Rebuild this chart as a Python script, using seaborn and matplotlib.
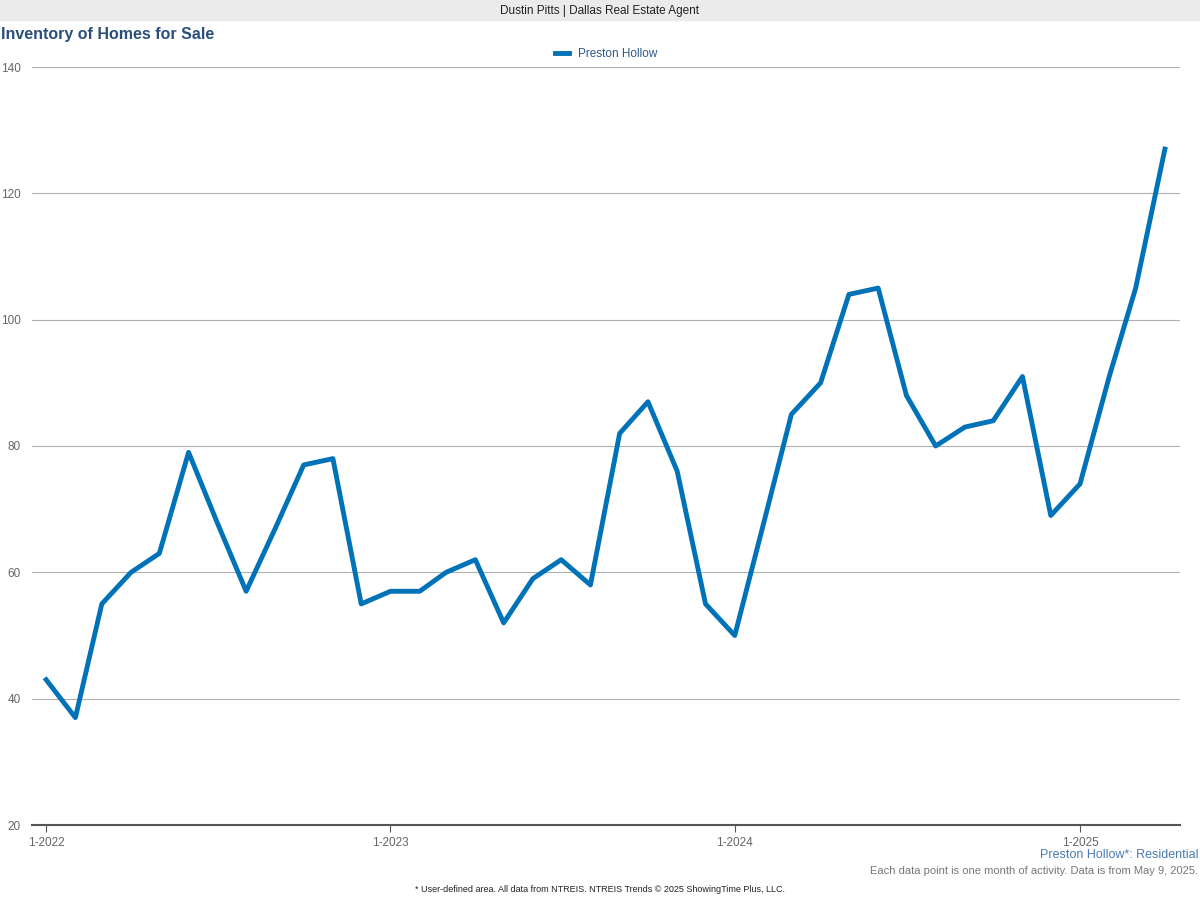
import pandas as pd
import matplotlib.pyplot as plt
import seaborn as sns

# monthly inventory, Jan 2022 .. Apr 2025
months = pd.date_range("2022-01-01", "2025-04-01", freq="MS")
inventory = [43, 37, 55, 60, 63, 79, 68, 57, 67, 77, 78, 55,
             57, 57, 60, 62, 52, 59, 62, 58, 82, 87, 76, 55,
             50, 68, 85, 90, 104, 105, 88, 80, 83, 84, 91, 69,
             74, 91, 105, 127]
tick_dates = pd.to_datetime(["2022-01-01", "2023-01-01", "2024-01-01", "2025-01-01"])
tick_labels = ["1-2022", "1-2023", "1-2024", "1-2025"]

df = pd.DataFrame({"month": months, "inventory": inventory})

plt.rcParams["font.family"] = "Liberation Sans"
fig = plt.figure(figsize=(12, 9), dpi=100)
ax = fig.add_axes([32 / 1200, 1 - 825 / 900, 1148 / 1200, 758 / 900])

sns.lineplot(data=df, x="month", y="inventory", ax=ax, color="#0072b8",
             linewidth=3.5, label="Preston Hollow")

ax.set_ylim(20, 140)
ax.set_yticks(range(20, 141, 20))
ax.set_xlim(pd.Timestamp("2021-12-17"), pd.Timestamp("2025-04-17"))
ax.set_xticks(tick_dates)
ax.set_xticklabels(tick_labels)
ax.set_xlabel("")
ax.set_ylabel("")
ax.grid(axis="y", color="#b0b0b0", linewidth=0.8)
ax.set_axisbelow(True)
for s in ["top", "right", "left"]:
    ax.spines[s].set_visible(False)
ax.spines["bottom"].set_color("#555555")
ax.spines["bottom"].set_linewidth(1.5)
ax.tick_params(axis="y", length=0, labelsize=8.5, colors="#666666", pad=8)
ax.tick_params(axis="x", length=5, labelsize=8.5, colors="#666666", color="#555555")

leg = ax.legend(loc="lower center", bbox_to_anchor=(0.5, 0.995), frameon=False,
                fontsize=8.5, handlelength=1.2)
for t in leg.get_texts():
    t.set_color("#2a5a8a")

# header bar
fig.patches.append(plt.Rectangle((0, 1 - 20 / 900), 1, 20 / 900, transform=fig.transFigure,
                                 color="#ebebeb", zorder=0))
fig.text(0.5, 1 - 11 / 900, "Dustin Pitts | Dallas Real Estate Agent", ha="center",
         va="center", fontsize=8.5, color="#222222")
fig.text(1 / 1200, 1 - 35 / 900, "Inventory of Homes for Sale", ha="left", va="center",
         fontsize=11.5, fontweight="bold", color="#2a4f7a")
fig.text(1198 / 1200, 1 - 855 / 900, "Preston Hollow*: Residential", ha="right", va="center",
         fontsize=9, color="#4a7bb0")
fig.text(1198 / 1200, 1 - 871 / 900,
         "Each data point is one month of activity. Data is from May 9, 2025.",
         ha="right", va="center", fontsize=8, color="#777777")
fig.text(0.5, 1 - 889 / 900,
         "* User-defined area. All data from NTREIS. NTREIS Trends \u00a9 2025 ShowingTime Plus, LLC.",
         ha="center", va="center", fontsize=6.5, color="#222222")

fig.savefig("out.png", dpi=100)
